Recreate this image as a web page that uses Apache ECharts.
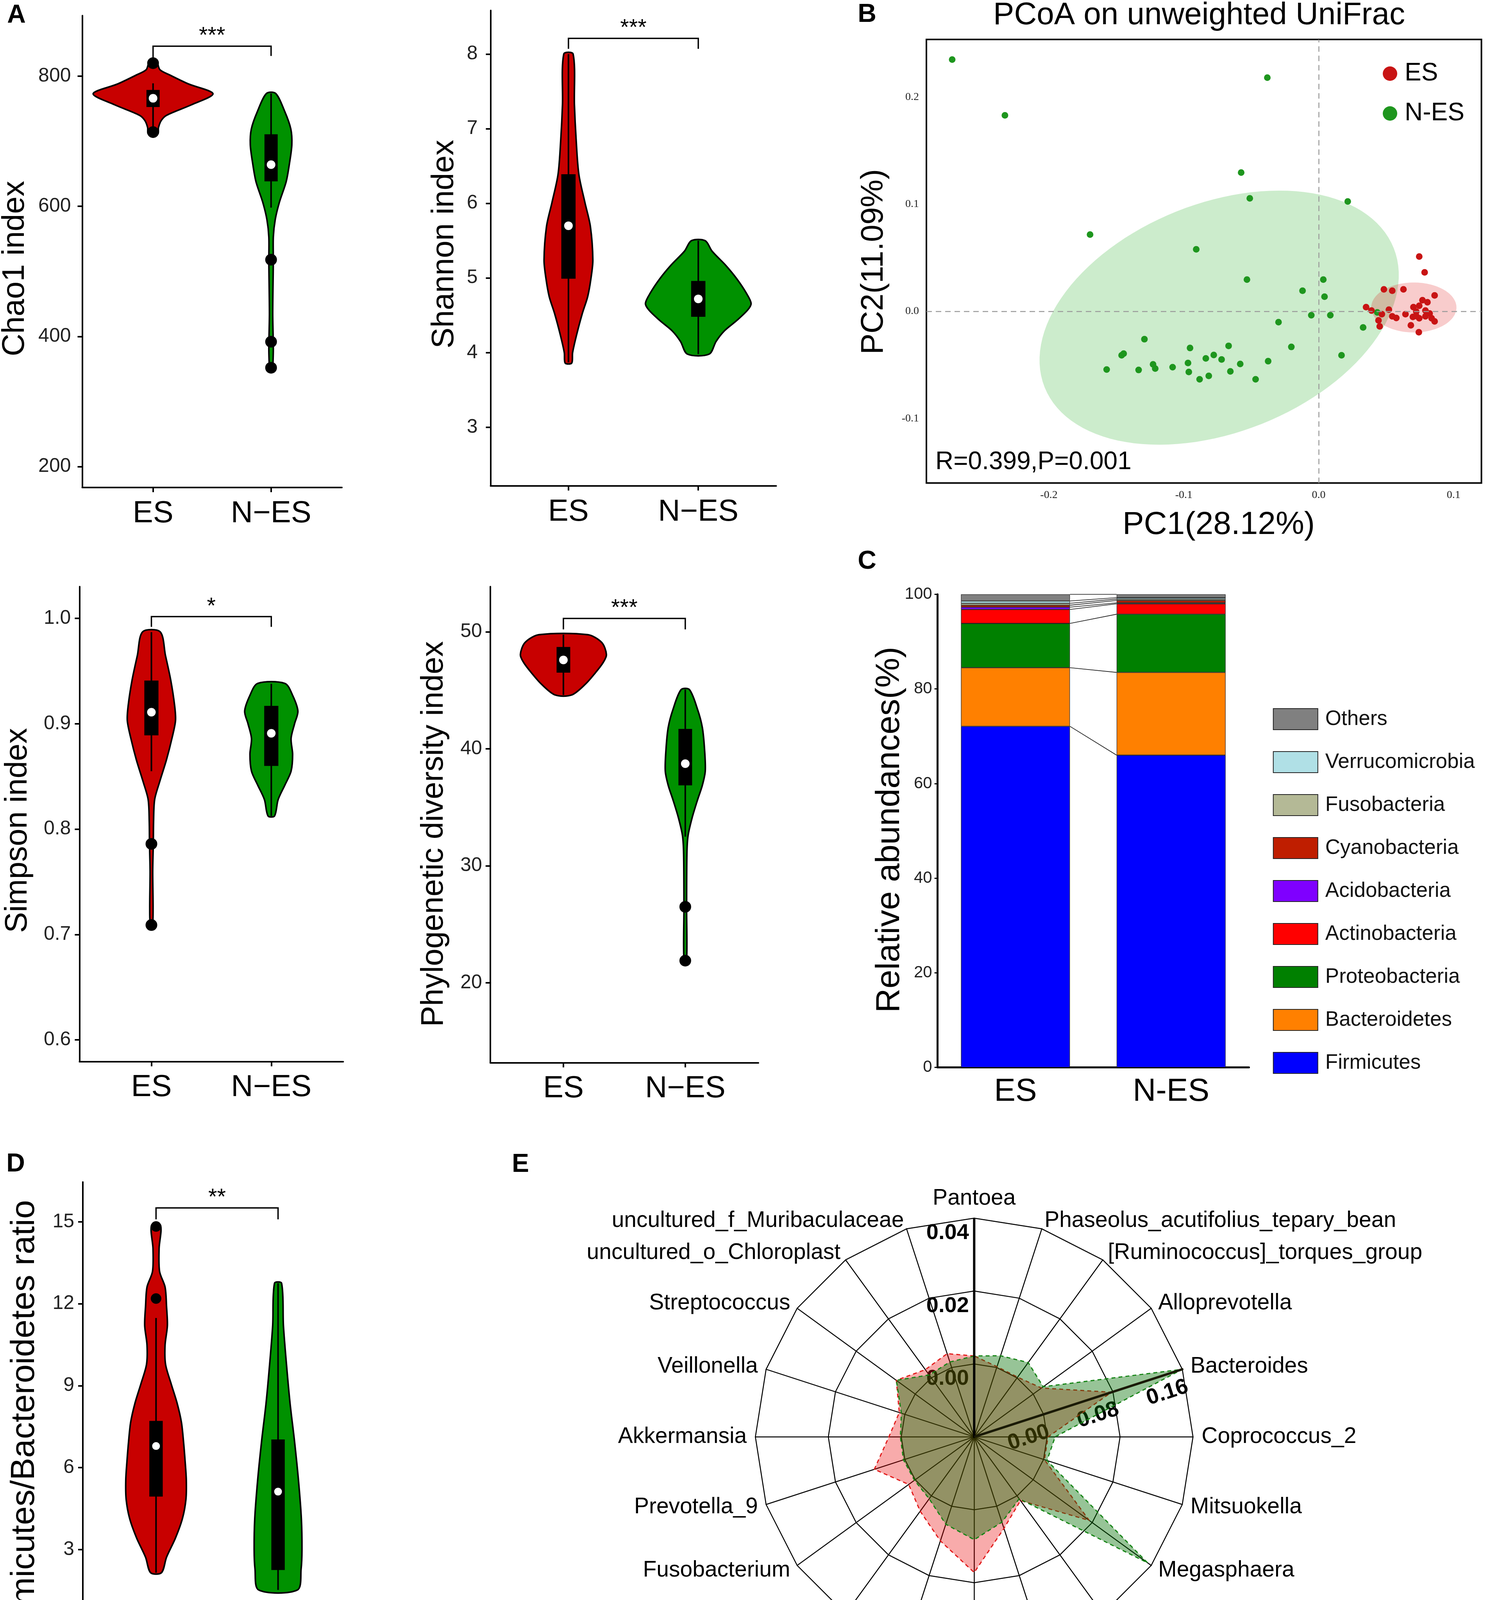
<!DOCTYPE html>
<html><head><meta charset="utf-8">
<script src="https://cdn.jsdelivr.net/npm/echarts@6.0.0/dist/echarts.min.js"></script>
<style>html,body{margin:0;padding:0;background:#fff}#c{width:3816px;height:5950px}</style>
</head><body><div id="c"></div>
<script>
// ---------- DATA ----------
const groups = ['ES', 'N\u2212ES'];

// A: Chao1  (violin outline: [value, half-width in category units])
const chaoTicks = [200, 400, 600, 800];
const chaoES = [[822,0.03],[810,0.058],[802,0.139],[788,0.30],[773,0.508],[756,0.325],[740,0.116],[732,0.07],[721,0.046],[711,0.04]];
const chaoNES = [[773.4,0.039],[745.6,0.116],[719,0.167],[694.7,0.176],[665,0.155],[638,0.128],[606,0.07],[579.5,0.035],[552.8,0.019],[515,0.019],[434.8,0.014],[381,0.019],[349,0.014],[346.4,0.012]];
const chaoBox = [[720,752.6,766,778.8,789],[598,638.4,664,710.7,773.4]]; // [wlo,q1,median,q3,whi]
const chaoOut = [[1,820],[1,714],[2,518],[2,392],[2,352]];
const chaoSig = [1,2,846,826,831,'***'];

// A: Shannon
const shanTicks = [3,4,5,6,7,8];
const shanES = [[8.0,0.036],[7.32,0.046],[6.86,0.059],[6.39,0.080],[6.01,0.127],[5.69,0.169],[5.24,0.188],[4.99,0.173],[4.75,0.148],[4.52,0.106],[4.24,0.063],[4.0,0.032],[3.86,0.025]];
const shanNES = [[5.5,0.053],[5.36,0.106],[5.17,0.211],[4.99,0.296],[4.80,0.369],[4.66,0.407],[4.57,0.38],[4.43,0.296],[4.29,0.2],[4.15,0.137],[3.98,0.084]];
const shanBox = [[3.87,4.99,5.70,6.39,8.0],[3.98,4.48,4.72,4.96,5.5]];
const shanOut = [];
const shanSig = [1,2,8.21,8.07,8.07,'***'];

// A: Simpson
const simpTicks = [0.6,0.7,0.8,0.9,1.0];
const simpES = [[0.9873,0.073],[0.965,0.117],[0.941,0.162],[0.917,0.194],[0.903,0.201],[0.886,0.171],[0.866,0.126],[0.845,0.069],[0.828,0.027],[0.807,0.018],[0.787,0.016],[0.76,0.011],[0.725,0.014],[0.709,0.009]];
const simpNES = [[0.9383,0.114],[0.927,0.178],[0.912,0.222],[0.900,0.194],[0.886,0.165],[0.871,0.178],[0.855,0.165],[0.842,0.114],[0.828,0.057],[0.8125,0.027]];
const simpBox = [[0.855,0.889,0.911,0.941,0.987],[0.8125,0.860,0.891,0.917,0.938]];
const simpOut = [[1,0.786],[1,0.709]];
const simpSig = [1,2,1.0017,0.992,0.992,'*'];

// A: Phylogenetic diversity
const pdTicks = [20,30,40,50];
const pdES = [[49.75,0.20],[49.08,0.315],[48.05,0.353],[47.37,0.326],[46.45,0.259],[45.52,0.18],[44.6,0.0675]];
const pdNES = [[45.06,0.034],[43.36,0.101],[41.82,0.14],[39.97,0.158],[38.1,0.164],[36.88,0.14],[35.65,0.101],[34.1,0.056],[32.56,0.0225],[31.0,0.0135],[26.4,0.011],[21.9,0.011]];
const pdBox = [[44.6,46.51,47.59,48.7,49.75],[32.5,36.88,38.73,41.7,45.06]];
const pdOut = [[2,26.5],[2,21.9]];
const pdSig = [1,2,51.14,50.2,50.2,'***'];

// D: Firmicutes/Bacteroidetes ratio
const fbTicks = [0,3,6,9,12,15];
const fbES = [[14.87,0.037],[14.02,0.025],[13.18,0.029],[12.61,0.074],[11.9,0.086],[11.2,0.093],[10.49,0.074],[9.78,0.078],[9.08,0.123],[8.37,0.172],[7.66,0.208],[6.96,0.225],[6.25,0.238],[5.55,0.248],[4.84,0.245],[4.13,0.216],[3.42,0.159],[2.72,0.086],[2.15,0.044]];
const fbNES = [[12.75,0.029],[11.2,0.044],[9.78,0.069],[8.37,0.098],[6.96,0.135],[5.55,0.167],[4.13,0.191],[3.0,0.196],[2.29,0.189],[1.52,0.159]];
const fbBox = [[2.15,4.94,6.79,7.71,11.48],[1.52,2.25,5.12,7.03,12.75]];
const fbOut = [[1,14.83],[1,12.19]];
const fbSig = [1,2,15.51,15.09,15.09,'**'];

// F: Anaerobic
const anTicks = [0.3,0.5,0.7,0.9];
const anES = [[0.964,0.137],[0.942,0.158],[0.917,0.16],[0.892,0.143],[0.860,0.109],[0.829,0.074],[0.798,0.042],[0.760,0.025],[0.672,0.019],[0.546,0.015],[0.452,0.015],[0.411,0.0105]];
const anNES = [[0.970,0.315],[0.961,0.45],[0.946,0.506],[0.933,0.441],[0.917,0.273],[0.898,0.147],[0.879,0.0945],[0.860,0.1],[0.845,0.118],[0.823,0.0945],[0.804,0.042],[0.785,0.0315]];
const anBox = [[0.515,0.760,0.829,0.939,0.964],[0.842,0.903,0.921,0.951,0.970]];
const anOut = [[1,0.441],[1,0.411],[2,0.835],[2,0.816],[2,0.785]];
const anSig = [1,2,0.997,0.980,0.980,'*'];

// F: Aerobic
const aeTicks = [0,0.06,0.12,0.18,0.24];
const aeES = [[0.2191,0.039],[0.2033,0.033],[0.1771,0.022],[0.1446,0.026],[0.1132,0.031],[0.0922,0.039],[0.0755,0.066],[0.0608,0.105],[0.0503,0.135],[0.0398,0.175],[0.0293,0.208],[0.021,0.21],[0.0126,0.186],[0.0032,0.157]];
const aeNES = [[0.1524,0.033],[0.1446,0.022],[0.1237,0.011],[0.1027,0.011],[0.088,0.022],[0.0797,0.055],[0.0713,0.061],[0.0629,0.048],[0.0503,0.066],[0.0398,0.175],[0.0293,0.328],[0.0189,0.452],[0.0126,0.459],[0.0059,0.367]];
const aeBox = [[0.0032,0.0157,0.0562,0.0744,0.1331],[0.0059,0.0095,0.0268,0.0293,0.0545]];
const aeOut = [[1,0.2191],[1,0.2054],[1,0.1775],[2,0.1524],[2,0.0755],[2,0.073],[2,0.0646]];
const aeSig = [1,2,0.2293,0.2226,0.2226,'*'];

// F: Facultatively anaerobic
const faTicks = [0,0.1,0.2,0.3];
const faES = [[0.2678,0.025],[0.2484,0.021],[0.2155,0.031],[0.1767,0.029],[0.132,0.037],[0.1021,0.052],[0.0812,0.083],[0.0633,0.135],[0.0454,0.187],[0.0275,0.21],[0.0156,0.176],[0.0051,0.17]];
const faNES = [[0.3149,0.031],[0.2812,0.017],[0.2484,0.0104],[0.2131,0.021],[0.1827,0.0125],[0.149,0.021],[0.123,0.021],[0.0991,0.037],[0.0782,0.073],[0.0603,0.145],[0.0424,0.26],[0.0275,0.332],[0.0171,0.357],[0.0066,0.284]];
const faBox = [[0.0051,0.02,0.0657,0.0977,0.2012],[0.0066,0.0102,0.0454,0.055,0.1125]];
const faOut = [[1,0.2678],[1,0.2161],[2,0.3149],[2,0.2131],[2,0.149]];
const faSig = [1,2,0.3305,0.3206,0.3206,'*'];

// F: Stress tolerant
const stTicks = [0,0.07,0.14,0.21,0.28];
const stES = [[0.2527,0.0315],[0.237,0.025],[0.2285,0.029],[0.2031,0.021],[0.1668,0.025],[0.1305,0.038],[0.1064,0.0525],[0.0822,0.084],[0.0628,0.126],[0.0459,0.151],[0.0362,0.153],[0.0241,0.137],[0.0108,0.137]];
const stNES = [[0.214,0.063],[0.2007,0.0315],[0.1789,0.017],[0.1523,0.017],[0.133,0.0315],[0.1233,0.0315],[0.1088,0.017],[0.0943,0.025],[0.0749,0.063],[0.0581,0.147],[0.0435,0.252],[0.0314,0.336],[0.0241,0.359],[0.0169,0.294],[0.0058,0.235]];
const stBox = [[0.0108,0.0241,0.073,0.104,0.2067],[0.0058,0.0193,0.044,0.0507,0.0894]];
const stOut = [[1,0.2527],[1,0.237],[1,0.2285],[2,0.215],[2,0.213],[2,0.1337],[2,0.1221]];
const stSig = [1,2,0.2645,0.2575,0.2575,'*'];

// B: PCoA
const pcXTicks = [-0.2,-0.1,0,0.1];
const pcYTicks = [-0.1,0,0.1,0.2];
const esPts = [[0.0745,0.0511],[0.0785,0.0364],[0.0483,0.0205],[0.0545,0.0192],[0.0628,0.0205],[0.0859,0.0149],[0.0769,0.0104],[0.0806,0.0085],[0.0351,0.0039],[0.0391,0.0007],[0.052,0.0016],[0.0702,0.0039],[0.0745,0.0052],[0.0791,0.0007],[0.0468,-0.0026],[0.0545,-0.0046],[0.0723,-0.0003],[0.0822,-0.002],[0.0698,-0.0052],[0.0745,-0.0065],[0.0791,-0.0046],[0.0837,-0.0065],[0.0443,-0.0085],[0.0859,-0.0094],[0.0452,-0.014],[0.0683,-0.013],[0.0742,-0.0195],[0.0643,-0.0026],[0.0723,-0.0044],[0.0575,-0.0062]];
const nesPts = [[-0.2717,0.2349],[-0.2326,0.1829],[-0.0381,0.218],[-0.0575,0.1295],[-0.0511,0.1054],[0.0215,0.1025],[-0.1695,0.0716],[-0.0908,0.0579],[-0.0532,0.0296],[0.0034,0.0296],[-0.012,0.0192],[0.0043,0.0137],[-0.0055,-0.0036],[0.0086,-0.0036],[-0.0298,-0.0101],[0.0329,-0.015],[0.0434,-0.001],[-0.1292,-0.026],[-0.0954,-0.0342],[-0.0668,-0.0322],[-0.0203,-0.0332],[-0.1446,-0.0394],[-0.1461,-0.041],[-0.0778,-0.0407],[-0.0837,-0.0439],[-0.072,-0.0449],[0.0169,-0.041],[-0.0375,-0.0465],[-0.1572,-0.0543],[-0.1335,-0.0547],[-0.1228,-0.0495],[-0.1212,-0.0534],[-0.1083,-0.0521],[-0.0969,-0.0482],[-0.0963,-0.0566],[-0.0582,-0.0491],[-0.0815,-0.0602],[-0.0655,-0.056],[-0.0883,-0.0634],[-0.0468,-0.0634]];
// ellipse: [cx, cy, ux, uy, vx, vy]
const ellipseNES = [-0.0738,-0.0059,0.1294,0.0649,0.0314,-0.0992];
const ellipseES = [0.0705,0.0036,0.0316,0.0,0.0,0.0233];

// C: phylum composition (%)
const phyla = ['Firmicutes','Bacteroidetes','Proteobacteria','Actinobacteria','Acidobacteria','Cyanobacteria','Fusobacteria','Verrucomicrobia','Others'];
const phylumES = [72.1,12.4,9.35,2.95,0.5,0.4,0.4,0.5,1.4];
const phylumNES = [66.0,17.5,12.3,2.2,0.2,0.5,0.3,0.3,0.7];
const barCats = ['ES','N-ES'];

// E: radar (counter-clockwise from top)
const genera = ['Pantoea','uncultured_f_Muribaculaceae','uncultured_o_Chloroplast','Streptococcus','Veillonella','Akkermansia','Prevotella_9','Fusobacterium','Ruminococcaceae_UCG-014','Ruminococcaceae_UCG-005','Lactobacillus','Escherichia-Shigella','Desulfovibrio','Megasphaera','Mitsuokella','Coprococcus_2','Bacteroides','Alloprevotella','[Ruminococcus]_torques_group','Phaseolus_acutifolius_tepary_bean'];
const pantoeaRange = [-0.02, 0.04];
const otherRange = [-0.08, 0.16];
const radarES = [0.0022,0.016,0.0112,0.0256,0.0064,0.0136,0.0352,0.0088,0.0208,0.040,0.0688,0.0256,0.0064,0.076,0.001,0.001,0.0784,0.0112,0.001,0.001];
const radarNES = [0.0022,0.0064,0.004,0.0256,0.004,0.001,0.0016,0.001,0.004,0.0208,0.0328,0.0184,0.004,0.1552,0.004,0.0088,0.16,0.0136,0.0208,0.0136];
const pantoeaTickLabels = ['0.00','0.02','0.04'];
const bactTickLabels = ['0.00','0.08','0.16'];

// ---------- STYLE / LAYOUT ----------
const groupColors = ['#c80000', '#009100'];
const SANS = 'Liberation Sans, Arial, sans-serif';
const stA = {outline:'#000', olw:4, alw:4, tick:12, outSize:30, medSize:22, tickFont:50, tickFam:SANS, catFont:78, sigFont:58, sigLw:3.5};
const stD = Object.assign({}, stA, {catFont:87, outSize:27, medSize:20});
const stF = {outline:'#333', olw:3, alw:4, tick:12, outSize:26, medSize:20, tickFont:48, tickFam:'DejaVu Sans, sans-serif', catFont:86, sigFont:50, sigLw:3.5};

const panels = [
  {grid:[210.5,40,664.5,1208], y:[168,893], ticks:chaoTicks, dec:0, shapes:[chaoES,chaoNES], box:chaoBox, out:chaoOut, sig:chaoSig, bw:0.056, st:stA, ylm:29, xlm:28},
  {grid:[1255.5,26.8,731,1217], y:[2.215,8.584], ticks:shanTicks, dec:0, shapes:[shanES,shanNES], box:shanBox, out:shanOut, sig:shanSig, bw:0.055, st:stA, ylm:33, xlm:29},
  {grid:[203.4,1501.7,675,1216], y:[0.5794,1.0302], ticks:simpTicks, dec:1, shapes:[simpES,simpNES], box:simpBox, out:simpOut, sig:simpSig, bw:0.059, st:stA, ylm:22, xlm:28},
  {grid:[1254.8,1501.7,686.2,1218.8], y:[13.18,53.86], ticks:pdTicks, dec:0, shapes:[pdES,pdNES], box:pdBox, out:pdOut, sig:pdSig, bw:0.056, st:stA, ylm:21, xlm:28},
  {grid:[212,3026,687,1205], y:[-0.778,16.456], ticks:fbTicks, dec:0, shapes:[fbES,fbNES], box:fbBox, out:fbOut, sig:fbSig, bw:0.055, st:stD, ylm:22, xlm:23},
  {grid:[202.8,4675.7,667.7,1162.3], y:[0.2655,1.0552], ticks:anTicks, dec:1, shapes:[anES,anNES], box:anBox, out:anOut, sig:anSig, bw:0.0315, st:stF, ylm:18, xlm:17},
  {grid:[1203.8,4675.7,642.2,1163.3], y:[-0.01215,0.2515], ticks:aeTicks, dec:2, shapes:[aeES,aeNES], box:aeBox, out:aeOut, sig:aeSig, bw:0.033, st:stF, ylm:29, xlm:17},
  {grid:[2155.1,4683.1,676,1155.9], y:[-0.0167,0.3564], ticks:faTicks, dec:1, shapes:[faES,faNES], box:faBox, out:faOut, sig:faSig, bw:0.033, st:stF, ylm:27, xlm:17},
  {grid:[3159.9,4664.6,645,1174.4], y:[-0.014,0.293], ticks:stTicks, dec:2, shapes:[stES,stNES], box:stBox, out:stOut, sig:stSig, bw:0.034, st:stF, ylm:31, xlm:17}
];

const grids = [], xAxes = [], yAxes = [], series = [];

panels.forEach(function (p, i) {
  const st = p.st;
  grids.push({left:p.grid[0], top:p.grid[1], width:p.grid[2], height:p.grid[3]});
  xAxes.push({gridIndex:i, type:'value', min:0.4, max:2.6, splitLine:{show:false},
    axisLine:{show:true, onZero:false, lineStyle:{color:'#000', width:st.alw}},
    axisTick:{show:true, customValues:[1,2], length:st.tick, lineStyle:{color:'#000', width:st.alw}},
    axisLabel:{show:true, customValues:[1,2], formatter:function(v){return groups[Math.round(v)-1];}, fontSize:st.catFont, fontFamily:SANS, color:'#000', margin:p.xlm}});
  yAxes.push({gridIndex:i, type:'value', min:p.y[0], max:p.y[1], splitLine:{show:false},
    axisLine:{show:true, onZero:false, lineStyle:{color:'#000', width:st.alw}},
    axisTick:{show:true, customValues:p.ticks, length:st.tick, lineStyle:{color:'#000', width:st.alw}},
    axisLabel:{show:true, customValues:p.ticks, formatter:function(v){return v.toFixed(p.dec);}, fontSize:st.tickFont, fontFamily:st.tickFam, color:'#222', margin:p.ylm}});
  // violins
  series.push({type:'custom', xAxisIndex:i, yAxisIndex:i, silent:true, z:2, data:[[1,p.y[0]],[2,p.y[0]]],
    renderItem:function (params, api) {
      const g = params.dataIndex, x = g + 1, sh = p.shapes[g], pts = [];
      for (let k = 0; k < sh.length; k++) pts.push(api.coord([x + sh[k][1], sh[k][0]]));
      for (let k = sh.length - 1; k >= 0; k--) pts.push(api.coord([x - sh[k][1], sh[k][0]]));
      return {type:'polygon', shape:{points:pts, smooth:0.3}, style:{fill:groupColors[g], stroke:st.outline, lineWidth:st.olw}};
    }});
  // boxes
  series.push({type:'custom', xAxisIndex:i, yAxisIndex:i, silent:true, z:3, data:p.box.map(function(b, g){return [g+1].concat(b);}),
    renderItem:function (params, api) {
      const x = api.value(0), wlo = api.value(1), q1 = api.value(2), med = api.value(3), q3 = api.value(4), whi = api.value(5);
      const a = api.coord([x, whi]), b = api.coord([x, wlo]);
      const tl = api.coord([x - p.bw, q3]), br = api.coord([x + p.bw, q1]);
      const m = api.coord([x, med]);
      return {type:'group', children:[
        {type:'line', shape:{x1:a[0], y1:a[1], x2:b[0], y2:b[1]}, style:{stroke:'#000', lineWidth:st.alw}},
        {type:'rect', shape:{x:tl[0], y:tl[1], width:br[0]-tl[0], height:br[1]-tl[1]}, style:{fill:'#000'}},
        {type:'circle', shape:{cx:m[0], cy:m[1], r:st.medSize/2}, style:{fill:'#fff'}, z2:10}
      ]};
    }});
  // outliers
  series.push({type:'scatter', xAxisIndex:i, yAxisIndex:i, silent:true, z:4, symbolSize:st.outSize, itemStyle:{color:'#000', opacity:1}, data:p.out});
  // significance bracket
  series.push({type:'custom', xAxisIndex:i, yAxisIndex:i, silent:true, z:3, data:[[p.sig[0], p.sig[2]]],
    renderItem:function (params, api) {
      const s = p.sig;
      const a = api.coord([s[0], s[3]]), b = api.coord([s[0], s[2]]), c = api.coord([s[1], s[2]]), d = api.coord([s[1], s[4]]);
      return {type:'group', children:[
        {type:'polyline', shape:{points:[a,b,c,d]}, style:{stroke:'#000', lineWidth:st.sigLw, fill:null}},
        {type:'text', x:(b[0]+c[0])/2, y:b[1]+4, style:{text:s[5], fontSize:st.sigFont, fontFamily:SANS, fill:'#000', align:'center', verticalAlign:'bottom', textAlign:'center', textVerticalAlign:'bottom'}}
      ]};
    }});
});

// ---------- B: PCoA (grid 9) ----------
grids.push({left:2371, top:100.9, width:1420.5, height:1135.7, show:true, borderColor:'#000', borderWidth:4, backgroundColor:'rgba(0,0,0,0)'});
xAxes.push({gridIndex:9, type:'value', min:-0.2908, max:0.1206, splitLine:{show:false}, axisLine:{show:false}, axisTick:{show:false},
  axisLabel:{customValues:pcXTicks, formatter:function(v){return v.toFixed(1);}, fontSize:28, fontFamily:'Liberation Serif, serif', color:'#222', margin:17}});
yAxes.push({gridIndex:9, type:'value', min:-0.1602, max:0.2537, splitLine:{show:false}, axisLine:{show:false}, axisTick:{show:false},
  axisLabel:{customValues:pcYTicks, formatter:function(v){return v.toFixed(1);}, fontSize:28, fontFamily:'Liberation Serif, serif', color:'#222', margin:19}});
const ellipses = [ellipseNES, ellipseES];
const ellipseFill = ['rgba(0,160,0,0.2)', 'rgba(220,0,0,0.2)'];
series.push({type:'custom', xAxisIndex:9, yAxisIndex:9, silent:true, z:1, data:ellipses.map(function(e){return [e[0], e[1]];}),
  renderItem:function (params, api) {
    const e = ellipses[params.dataIndex], pts = [];
    for (let k = 0; k < 120; k++) {
      const t = k / 120 * Math.PI * 2;
      pts.push(api.coord([e[0] + e[2]*Math.cos(t) + e[4]*Math.sin(t), e[1] + e[3]*Math.cos(t) + e[5]*Math.sin(t)]));
    }
    return {type:'polygon', shape:{points:pts}, style:{fill:ellipseFill[params.dataIndex]}};
  }});
series.push({type:'scatter', name:'N-ES', xAxisIndex:9, yAxisIndex:9, z:3, silent:true, symbolSize:17, itemStyle:{color:'#1e961e', opacity:1}, data:nesPts,
  markLine:{silent:true, symbol:'none', label:{show:false}, lineStyle:{type:[14,10], color:'#9a9a9a', width:2.5}, data:[{xAxis:0},{yAxis:0}]}});
series.push({type:'scatter', name:'ES', xAxisIndex:9, yAxisIndex:9, z:4, silent:true, symbolSize:17, itemStyle:{color:'#c81414', opacity:1}, data:esPts});

// ---------- C: stacked bar (grid 10) ----------
const phylumColors = ['#0000ff','#ff8000','#008000','#ff0000','#7f00ff','#bf1e00','#b4b996','#b0e0e6','#808080'];
grids.push({left:2399.7, top:1521.5, width:796.8, height:1211.1});
xAxes.push({gridIndex:10, type:'category', data:barCats, axisLine:{lineStyle:{color:'#000', width:5}},
  axisTick:{alignWithLabel:true, length:10, lineStyle:{color:'#000', width:3}},
  axisLabel:{fontSize:82, fontFamily:SANS, color:'#000', margin:22}});
yAxes.push({gridIndex:10, type:'value', min:0, max:100, interval:20, splitLine:{show:false},
  axisLine:{show:true, lineStyle:{color:'#000', width:5}}, axisTick:{show:true, length:8, lineStyle:{color:'#000', width:3}},
  axisLabel:{fontSize:42, fontFamily:SANS, color:'#222', margin:14}});
phyla.forEach(function (name, k) {
  series.push({type:'bar', name:name, xAxisIndex:10, yAxisIndex:10, stack:'phy', barWidth:'70%', silent:true, z:2,
    itemStyle:{color:phylumColors[k], borderColor:'#222', borderWidth:1.2}, data:[phylumES[k], phylumNES[k]]});
});
const cumES = [], cumNES = [];
(function(){ let a = 0, b = 0; phyla.forEach(function(_, k){ a += phylumES[k]; b += phylumNES[k]; cumES.push(a); cumNES.push(b); }); })();
series.push({type:'custom', xAxisIndex:10, yAxisIndex:10, silent:true, z:3, data:cumES.map(function(v, k){return [0, v, cumNES[k]];}),
  renderItem:function (params, api) {
    const p1 = api.coord([0, api.value(1)]), p2 = api.coord([1, api.value(2)]);
    const hw = api.size([1, 0])[0] * 0.35;
    return {type:'line', shape:{x1:p1[0]+hw, y1:p1[1], x2:p2[0]-hw, y2:p2[1]}, style:{stroke:'#111', lineWidth:1.6}};
  }});

// ---------- E: radar ----------
const radarCenter = [2493.3, 3678.4], radarR = 560;
const indicators = genera.map(function (g, k) { const r = k === 0 ? pantoeaRange : otherRange; return {name:g, min:r[0], max:r[1]}; });
series.push({type:'radar', radarIndex:0, silent:true, z:3, symbol:'none', data:[
  {name:'ES', value:radarES, lineStyle:{type:[10,8], color:'#e02020', width:3}, areaStyle:{color:'rgba(235,0,0,0.47)'}, itemStyle:{color:'#cc0000'}},
  {name:'N-ES', value:radarNES, lineStyle:{type:[10,8], color:'#1a8a1a', width:3}, areaStyle:{color:'rgba(0,110,0,0.58)'}, itemStyle:{color:'#009900'}}
]});
// emphasised axes (Pantoea and Bacteroides), drawn as radar lines from the centre to the axis maximum
const spokeP = indicators.map(function (ind, k) { return k === 0 ? ind.max : ind.min; });
const spokeB = indicators.map(function (ind, k) { return k === 16 ? ind.max : ind.min; });
series.push({type:'radar', radarIndex:0, silent:true, z:4, symbol:'none', data:[
  {value:spokeP, lineStyle:{color:'#000', width:6}},
  {value:spokeB, lineStyle:{color:'#1a1a05', width:6}}
]});

// ---------- TEXT ----------
function txt(text, x, y, size, o) {
  o = o || {};
  const al = o.align || 'center';
  return {type:'text', x:x, y:y, rotation:o.rot || 0, z:o.z == null ? 10 : o.z,
    style:{text:text, fontSize:size, fontFamily:o.fam || SANS, fontWeight:o.bold ? 'bold' : 'normal', fill:'#000',
      align:al, verticalAlign:'middle', textAlign:al, textVerticalAlign:'middle'}};
}
const R90 = Math.PI / 2;
const graphics = [
  txt('A', 42, 40, 66, {bold:true}), txt('B', 2219, 38, 66, {bold:true}), txt('C', 2219, 1438, 66, {bold:true}),
  txt('D', 40, 2981, 66, {bold:true}), txt('E', 1332, 2982, 66, {bold:true}), txt('F', 32, 4643, 66, {bold:true}),
  txt('Chao1 index', 38.6, 687.5, 80, {rot:R90}),
  txt('Shannon index', 1137.7, 625, 80, {rot:R90}),
  txt('Simpson index', 45.6, 2126, 80, {rot:R90}),
  txt('Phylogenetic diversity index', 1111.4, 2135, 80, {rot:R90}),
  txt('Firmicutes/Bacteroidetes ratio', 63, 3641, 86, {rot:R90}),
  txt('Relative abundances(%)', 2277.5, 2124, 86, {rot:R90}),
  txt('PC2(11.09%)', 2237, 670, 80, {rot:R90}),
  txt('PC1(28.12%)', 3119, 1344, 82),
  txt('PCoA on unweighted UniFrac', 3069, 40, 80),
  txt('R=0.399,P=0.001', 2394, 1183, 64, {align:'left'}),
  txt('Relative abundances', 40, 5240, 92, {rot:R90}),
  txt('Relative abundances', 1015.4, 5265, 92, {rot:R90}),
  txt('Relative abundances', 1994, 5256, 92, {rot:R90}),
  txt('Relative abundances', 2968.6, 5244, 92, {rot:R90}),
  txt('Anaerobic', 513, 4637, 58, {fam:'DejaVu Sans, sans-serif'}),
  txt('Aerobic', 1506.8, 4637, 58, {fam:'DejaVu Sans, sans-serif'}),
  txt('Facultatively anaerobic', 2472.7, 4637, 58, {fam:'DejaVu Sans, sans-serif'}),
  txt('Stress tolerant', 3472.2, 4637, 58, {fam:'DejaVu Sans, sans-serif'})
];
// radar tick labels along the Pantoea and Bacteroides axes (positions derived from radar geometry)
const bAng = 18 * Math.PI / 180;
for (let k = 1; k <= 3; k++) {
  const r = radarR * k / 3;
  graphics.push(txt(pantoeaTickLabels[k-1], radarCenter[0] - 68, radarCenter[1] - r + 38, 56, {bold:true, z:0}));
  graphics.push(txt(bactTickLabels[k-1], radarCenter[0] + r*Math.cos(bAng) - 38, radarCenter[1] - r*Math.sin(bAng) + 60, 56, {bold:true, z:0, rot:bAng}));
}

const option = {
  animation:false,
  backgroundColor:'#fff',
  grid:grids, xAxis:xAxes, yAxis:yAxes,
  radar:{center:radarCenter, radius:radarR, startAngle:90, splitNumber:3, shape:'polygon', nameGap:22, indicator:indicators,
    axisName:{color:'#000', fontSize:57, fontFamily:SANS},
    splitLine:{lineStyle:{color:'#000', width:2.5}}, splitArea:{show:false},
    axisLine:{lineStyle:{color:'#000', width:2.5}}, axisTick:{show:false}, axisLabel:{show:false}},
  legend:[
    {selectedMode:false, orient:'vertical', left:3252.8, top:1808, itemWidth:114, itemHeight:54, itemGap:54, icon:'rect',
      data:phyla.slice().reverse(), itemStyle:{borderColor:'#222', borderWidth:2},
      textStyle:{fontSize:53, fontFamily:SANS, color:'#111', lineHeight:54, padding:[0,0,0,14]}},
    {selectedMode:false, orient:'vertical', left:3534, top:151.5, itemWidth:37, itemHeight:37, itemGap:38,
      data:[{name:'ES', icon:'circle', itemStyle:{color:'#c81414', borderWidth:0}}, {name:'N-ES', icon:'circle', itemStyle:{color:'#1e961e', borderWidth:0}}],
      textStyle:{fontSize:64, fontFamily:SANS, color:'#000', lineHeight:37, padding:[0,0,0,14]}},
    {selectedMode:false, orient:'vertical', left:3428.5, top:4148, itemWidth:102, itemHeight:56, itemGap:40,
      data:[{name:'ES', icon:'rect', itemStyle:{color:'#cc0000', borderWidth:0}}, {name:'N-ES', icon:'rect', itemStyle:{color:'#009900', borderWidth:0}}],
      textStyle:{fontSize:66, fontFamily:SANS, color:'#000', lineHeight:56, padding:[0,0,0,17]}}
  ],
  graphic:graphics,
  series:series
};
const chart = echarts.init(document.getElementById('c'));
chart.setOption(option);
</script></body></html>
